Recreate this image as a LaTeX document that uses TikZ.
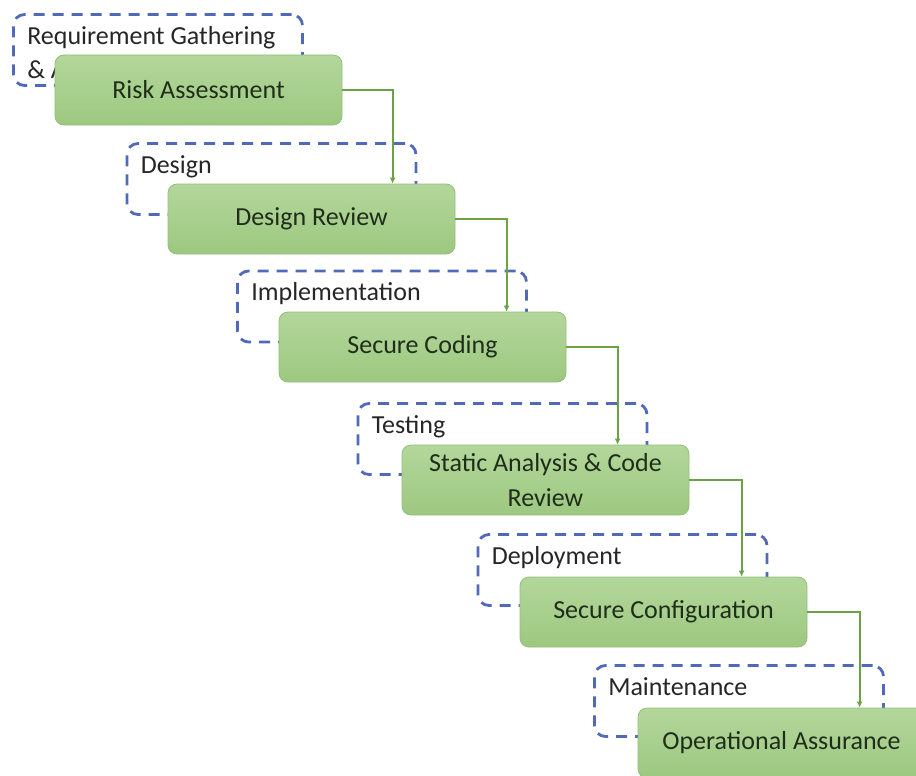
\documentclass[tikz,border=0pt]{standalone}
\usepackage{fontspec}
\setmainfont{Carlito}
\usetikzlibrary{arrows.meta}

\definecolor{stagetop}{HTML}{B3D79B}
\definecolor{stagebot}{HTML}{9DC880}
\definecolor{stageline}{HTML}{93C078}
\definecolor{stagetext}{HTML}{1F2E1A}
\definecolor{phaseline}{HTML}{5069B8}
\definecolor{phasetext}{HTML}{262626}
\definecolor{flowline}{HTML}{6CA144}

\begin{document}
\begin{tikzpicture}[x=1pt,y=-1pt,
    font=\fontsize{26}{34}\selectfont,
    stage/.style={draw=stageline, line width=0.8pt, rounded corners=9pt,
        top color=stagetop, bottom color=stagebot, text=stagetext,
        minimum width=287pt, minimum height=70pt, align=center, inner sep=2pt},
    phase/.style={draw=phaseline, line width=2.8pt, dash pattern=on 11pt off 8pt,
        rounded corners=11pt, minimum width=289pt, minimum height=71pt},
    phasetext/.style={anchor=north west, inner sep=0pt, text=phasetext,
        align=left, xshift=15pt, yshift=-13pt},
    flow/.style={draw=flowline, line width=2.2pt, -{Latex[length=6pt,width=6pt]}}
]
\useasboundingbox (0,0) rectangle (916,776);
\clip (0,0) rectangle (916,776);

% phases
\node [phase, label={[phasetext]north west:{Requirement Gathering\\\& Analysis}}] (phreq) at (158,50) {};
\node [phase, label={[phasetext]north west:Design}]         (phdesign) at (271.5,179) {};
\node [phase, label={[phasetext]north west:Implementation}] (phimpl)   at (382,306.5) {};
\node [phase, label={[phasetext]north west:Testing}]        (phtest)   at (502.5,439) {};
\node [phase, label={[phasetext]north west:Deployment}]     (phdeploy) at (622.5,570) {};
\node [phase, label={[phasetext]north west:Maintenance}]    (phmaint)  at (739,701) {};

% security activities
\node [stage] (risk)      at (198.5,90)  {Risk Assessment};
\node [stage] (review)    at (311.5,219) {Design Review};
\node [stage] (coding)    at (422.5,347) {Secure Coding};
\node [stage] (analysis)  at (545.5,480) {Static Analysis \& Code\\[1pt]Review};
\node [stage] (config)    at (663.5,612) {Secure Configuration};
\node [stage] (assurance) at (781.5,743) {Operational Assurance};

% flow
\draw [flow] (risk.east)     -| ([xshift=225pt]review.north west);
\draw [flow] (review.east)   -| ([xshift=228pt]coding.north west);
\draw [flow] (coding.east)   -| ([xshift=216pt]analysis.north west);
\draw [flow] (analysis.east) -| ([xshift=222pt]config.north west);
\draw [flow] (config.east)   -| ([xshift=222pt]assurance.north west);

\end{tikzpicture}
\end{document}
